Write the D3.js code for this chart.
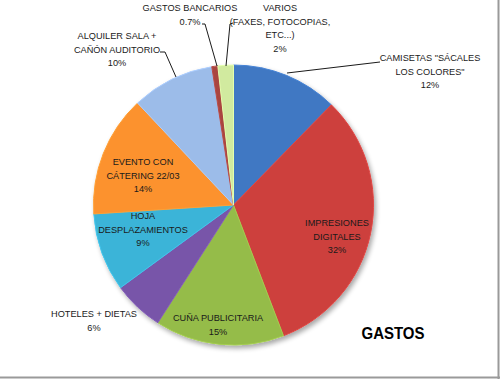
<!DOCTYPE html>
<html><head><meta charset="utf-8">
<script src="https://cdn.jsdelivr.net/npm/d3@7"></script>
<style>body{margin:0;background:#fff}svg{display:block}</style>
</head><body>
<svg id="c" width="500" height="379"></svg>
<script>
const categories = ["CAMISETAS \"SÁCALES LOS COLORES\"", "IMPRESIONES DIGITALES", "CUÑA PUBLICITARIA", "HOTELES + DIETAS", "HOJA DESPLAZAMIENTOS", "EVENTO CON CÁTERING 22/03", "ALQUILER SALA + CAÑÓN AUDITORIO", "GASTOS BANCARIOS", "VARIOS (FAXES, FOTOCOPIAS, ETC...)"];
const values = [12.4, 32.1, 15.0, 5.9, 9.1, 14.1, 9.6, 0.7, 1.8];
const pctLabels = ["12%", "32%", "15%", "6%", "9%", "14%", "10%", "0.7%", "2%"];
const labelLines = [
  ["CAMISETAS \"SÁCALES", "LOS COLORES\"", "12%"],
  ["IMPRESIONES", "DIGITALES", "32%"],
  ["CUÑA PUBLICITARIA", "15%"],
  ["HOTELES + DIETAS", "6%"],
  ["HOJA", "DESPLAZAMIENTOS", "9%"],
  ["EVENTO CON", "CÁTERING 22/03", "14%"],
  ["ALQUILER SALA +", "CAÑÓN AUDITORIO", "10%"],
  ["GASTOS BANCARIOS", "0.7%"],
  ["VARIOS", "(FAXES, FOTOCOPIAS,", "ETC...)", "2%"]
];
const colors = ["#3d72b9", "#c23d3a", "#8db244", "#7251a0", "#38abcd", "#ef8a2c", "#94b2dd", "#a0403c", "#c6de97"];
const title = "GASTOS";

const svg = d3.select("#c");
const cx = 233.5, cy = 205, R = 140;
const font = "'Liberation Sans', Arial, sans-serif";

// border
svg.append("line").attr("x1",0).attr("x2",500).attr("y1",377.5).attr("y2",377.5).attr("stroke","#9a9a9a").attr("stroke-width",2);
svg.append("line").attr("x1",498.5).attr("x2",498.5).attr("y1",0).attr("y2",379).attr("stroke","#9a9a9a").attr("stroke-width",2);

const defs = svg.append("defs");
const f = defs.append("filter").attr("id","sh").attr("x","-20%").attr("y","-20%").attr("width","140%").attr("height","140%");
f.append("feGaussianBlur").attr("in","SourceAlpha").attr("stdDeviation",2.5);
f.append("feOffset").attr("dx",2).attr("dy",3).attr("result","b");
f.append("feComponentTransfer").append("feFuncA").attr("type","linear").attr("slope",0.35);
const m = f.append("feMerge"); m.append("feMergeNode"); m.append("feMergeNode").attr("in","SourceGraphic");

colors.forEach((c,i)=>{
  const g = defs.append("radialGradient").attr("id","g"+i).attr("gradientUnits","userSpaceOnUse")
    .attr("cx",cx).attr("cy",cy).attr("r",R);
  g.append("stop").attr("offset","0%").attr("stop-color", d3.color(c).darker(0.15));
  g.append("stop").attr("offset","85%").attr("stop-color", c);
  g.append("stop").attr("offset","100%").attr("stop-color", d3.color(c).brighter(0.15));
});

const pie = d3.pie().sort(null).value(d=>d)(values);
const arc = d3.arc().innerRadius(0).outerRadius(R);
const gp = svg.append("g").attr("transform",`translate(${cx},${cy})`).attr("filter","url(#sh)");
gp.selectAll("path").data(pie).join("path")
  .attr("d",arc).attr("fill",(d,i)=>`url(#g${i})`)
  .attr("stroke",(d,i)=>d3.color(colors[i]).brighter(0.4)).attr("stroke-width",1).attr("stroke-linejoin","round");

// label placement (center x, first baseline y) and leader lines
const labelPos = [
  [430, 61], [337, 226], [218, 321], [94, 317], [143, 219], [143, 165], [117, 39], [190, 11], [280, 11]
];
const lineH = 13.6;
const lt = svg.append("g").attr("font-family",font).attr("font-size",9.2).attr("fill","#1a1a1a").attr("text-anchor","middle");
labelLines.forEach((lines,i)=>{
  const t = lt.append("text").attr("x",labelPos[i][0]).attr("y",labelPos[i][1]);
  lines.forEach((s,j)=>t.append("tspan").attr("x",labelPos[i][0]).attr("dy", j?lineH:0).text(s));
});

// leader lines: from label to slice edge
const leaders = [
  {i:0, pts:[[380,62],[287,73]]},
  {i:6, pts:[[160,52],[165,52],[176,77]]},
  {i:7, pts:[[202,24],[205,24],[217,66]]},
  {i:8, pts:[[233,23],[230,24],[226,66]]}
];
const lg = d3.line();
leaders.forEach(l=>{
  svg.append("path").attr("d",lg(l.pts)).attr("fill","none").attr("stroke","#1a1a1a").attr("stroke-width",1);
});

svg.append("text").attr("x",393).attr("y",339).attr("text-anchor","middle")
  .attr("font-family",font).attr("font-weight","bold").attr("font-size",16.5)
  .attr("textLength",63).attr("lengthAdjust","spacingAndGlyphs").attr("fill","#000").text(title);
</script>
</body></html>
